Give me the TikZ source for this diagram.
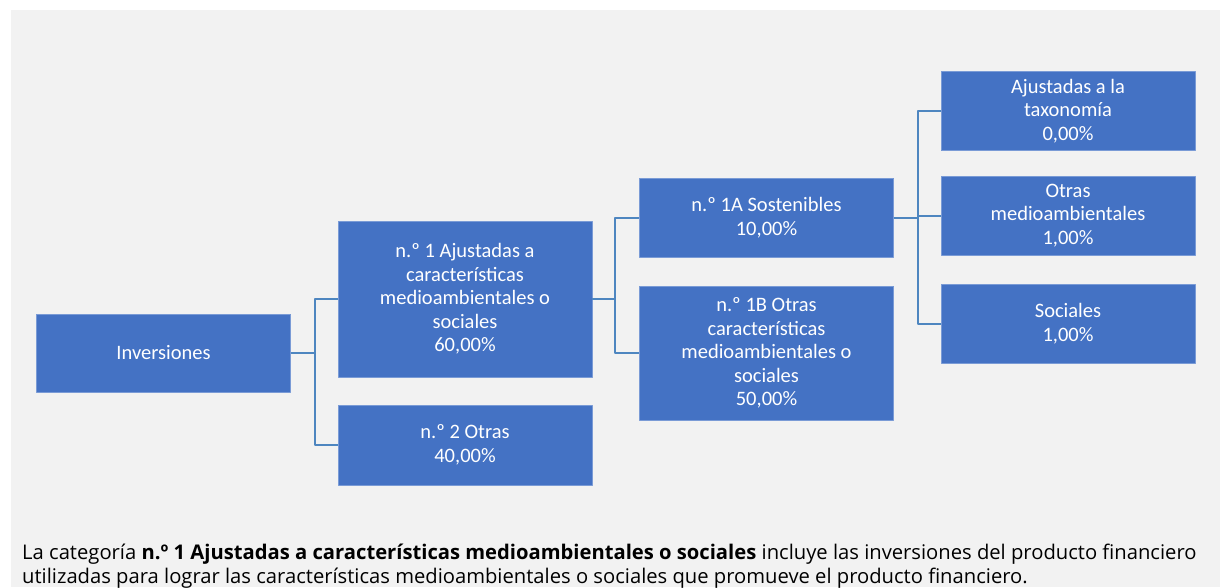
\documentclass[tikz,border=0pt]{standalone}
\usepackage{fontspec}
\setmainfont{Open Sans}
\newfontfamily\cajafont{Carlito}
\definecolor{fondogris}{HTML}{F2F2F2}
\definecolor{cajaazul}{HTML}{4472C4}
\definecolor{cajaborde}{HTML}{7A9BD6}
\definecolor{ramaazul}{HTML}{4E86C0}
\begin{document}
\begin{tikzpicture}[x=1pt,y=-1pt,line join=round]
	\tikzset{
		caja/.style={draw=cajaborde,line width=0.7pt,fill=cajaazul,text=white,
			minimum width=254pt,align=center,inner sep=0pt,
			font=\cajafont\fontsize{20.5}{23.5}\selectfont},
		rama/.style={draw=ramaazul,line width=2pt}
	}
	\useasboundingbox (0,0) rectangle (1226,587);
	%------------fondo
	\fill[fondogris] (11,10) rectangle (1220,587);
	
	%------------cajas
	\node[caja,minimum height=78pt] (inversiones) at (163.5,353) {Inversiones};
	\node[caja,minimum height=156pt] (nuno) at (465,299) {n.º 1 Ajustadas a\\características\\medioambientales o\\sociales\\60,00\%};
	\node[caja,minimum height=80pt] (ndos) at (465,445) {n.º 2 Otras\\40,00\%};
	\node[caja,minimum height=79pt] (nunoa) at (766.5,217.5) {n.º 1A Sostenibles\\10,00\%};
	\node[caja,minimum height=134pt] (nunob) at (766.5,353) {n.º 1B Otras\\características\\medioambientales o\\sociales\\50,00\%};
	\node[caja,minimum height=79pt] (taxo) at (1068,111) {Ajustadas a la\\taxonomía\\0,00\%};
	\node[caja,minimum height=79pt] (otrasma) at (1068,215.5) {Otras\\medioambientales\\1,00\%};
	\node[caja,minimum height=79pt] (sociales) at (1068,323.5) {Sociales\\1,00\%};
	
	%------------ramas
	\draw[rama] (inversiones.east) -- ++(24,0) |- (nuno.west);
	\draw[rama] (inversiones.east) -- ++(24,0) |- (ndos.west);
	\draw[rama] (nuno.east) -- ++(23,0) |- (nunoa.west);
	\draw[rama] (nuno.east) -- ++(23,0) |- (nunob.west);
	\draw[rama] (nunoa.east) -- ++(24,0) |- (taxo.west);
	\draw[rama] (nunoa.east) -- ++(24,0) |- (otrasma.west);
	\draw[rama] (nunoa.east) -- ++(24,0) |- (sociales.west);
	
	%------------nota
	\node[anchor=base west,align=left,inner sep=0pt,font=\fontsize{20.2}{24}\selectfont] (nota) at (22,583)
		{La categoría \textbf{n.º 1 Ajustadas a características medioambientales o sociales} incluye las inversiones del producto financiero\\
		utilizadas para lograr las características medioambientales o sociales que promueve el producto financiero.};
\end{tikzpicture}
\end{document}
